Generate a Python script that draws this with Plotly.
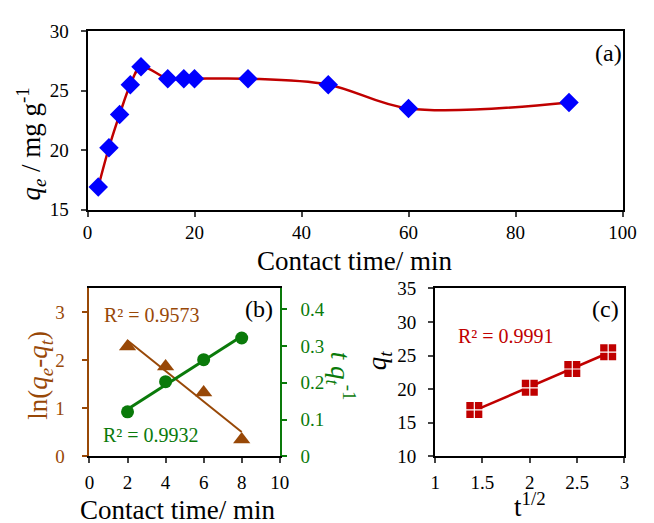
import numpy as np
import plotly.graph_objects as go

# ---------------- data ----------------
# (a) adsorption vs contact time
time_a = [2, 4, 6, 8, 10, 15, 18, 20, 30, 45, 60, 90]
qe_a = [16.9, 20.2, 23.0, 25.5, 27.0, 26.0, 26.0, 26.0, 26.0, 25.5, 23.5, 24.0]

# (b) kinetic models
time_b = [2, 4, 6, 8]
ln_qe_qt = [2.29, 1.87, 1.33, 0.35]
t_over_qt = [0.121, 0.203, 0.263, 0.322]
r2_first = "R² = 0.9573"
r2_second = "R² = 0.9932"

# (c) intraparticle diffusion
sqrt_t = [1.414, 2.0, 2.449, 2.828]
qt_c = [16.9, 20.2, 23.0, 25.5]
r2_intra = "R² = 0.9991"

# ---------------- style ----------------
W, H = 654, 523
FONT = "Times New Roman, Liberation Serif, DejaVu Serif, serif"
RED = "#C00000"
BLUE = "#0000FF"
BROWN = "#984807"
GREEN = "#0A7A0A"
TICK = 19
TITLE = 27


def px(x):
    return x / W


def py(y):
    return 1 - y / H


def fit(x, y):
    k, b = np.polyfit(x, y, 1)
    xs = np.array([min(x), max(x)])
    return xs, k * xs + b


fig = go.Figure()

# (a)
fig.add_trace(go.Scatter(x=time_a, y=qe_a, mode="lines", line=dict(color=RED, width=2.5, shape="spline", smoothing=1.0),
                         xaxis="x", yaxis="y", hoverinfo="skip"))
fig.add_trace(go.Scatter(x=time_a, y=qe_a, mode="markers", marker=dict(symbol="diamond", size=15, color=BLUE),
                         xaxis="x", yaxis="y"))

# (b)
fx, fy = fit(time_b, ln_qe_qt)
fig.add_trace(go.Scatter(x=fx, y=fy, mode="lines", line=dict(color=BROWN, width=2), xaxis="x2", yaxis="y2"))
fig.add_trace(go.Scatter(x=time_b, y=ln_qe_qt, mode="markers", marker=dict(symbol="triangle-up", size=15, color=BROWN),
                         xaxis="x2", yaxis="y2"))
gx, gy = fit(time_b, t_over_qt)
fig.add_trace(go.Scatter(x=gx, y=gy, mode="lines", line=dict(color=GREEN, width=3), xaxis="x2", yaxis="y3"))
fig.add_trace(go.Scatter(x=time_b, y=t_over_qt, mode="markers", marker=dict(symbol="circle", size=13, color=GREEN),
                         xaxis="x2", yaxis="y3"))

# (c)
cx, cy = fit(sqrt_t, qt_c)
fig.add_trace(go.Scatter(x=cx, y=cy, mode="lines", line=dict(color=RED, width=2.5), xaxis="x3", yaxis="y4"))
fig.add_trace(go.Scatter(x=sqrt_t, y=qt_c, mode="markers", marker=dict(symbol="square", size=16, color=RED),
                         xaxis="x3", yaxis="y4"))
fig.add_trace(go.Scatter(x=sqrt_t, y=qt_c, mode="markers",
                         marker=dict(symbol="cross-thin", size=13, color="white", line=dict(color="white", width=1.2)),
                         xaxis="x3", yaxis="y4"))

axis_common = dict(showline=True, linewidth=2, ticks="outside", ticklen=5, tickwidth=2, showgrid=False,
                   zeroline=False)


def tf(color="black"):
    return dict(family=FONT, size=TICK, color=color)


fig.update_layout(
    width=W, height=H, margin=dict(l=0, r=0, t=0, b=0), showlegend=False,
    paper_bgcolor="white", plot_bgcolor="white", font=dict(family=FONT),
    xaxis=dict(domain=[px(85), px(636)], range=[0, 100], dtick=20, anchor="y", mirror=True, linecolor="black",
               tickfont=tf(), **axis_common),
    yaxis=dict(domain=[py(208), py(22)], range=[15, 30], dtick=5, anchor="x", mirror=True, linecolor="black",
               tickfont=tf(), ticklabelstandoff=8, **axis_common),
    xaxis2=dict(domain=[px(87), px(283)], range=[0, 10], dtick=2, anchor="y2", mirror=True, linecolor="black",
                tickfont=tf(), ticklabelstandoff=3, **axis_common),
    yaxis2=dict(domain=[py(465), py(290)], range=[0, 3.5], dtick=1, anchor="x2", linecolor=BROWN, tickcolor=BROWN,
                tickfont=tf(BROWN), ticklabelstandoff=14, **axis_common),
    yaxis3=dict(range=[0, 0.457], dtick=0.1, anchor="x2", overlaying="y2", side="right", linecolor=GREEN,
                tickcolor=GREEN, tickfont=tf(GREEN), ticklabelstandoff=10, **axis_common),
    xaxis3=dict(domain=[px(443), px(638)], range=[1, 3], dtick=0.5, anchor="y4", mirror=True, linecolor="black",
                tickfont=tf(), ticklabelstandoff=3, **axis_common),
    yaxis4=dict(domain=[py(465), py(290)], range=[10, 35], dtick=5, anchor="x3", mirror=True, linecolor="black",
                tickfont=tf(), ticklabelstandoff=8, **axis_common),
)


def ann(text, x, y, size, color="black", angle=0, yanchor="middle", yshift=0):
    fig.add_annotation(text=text, x=px(x), y=py(y), xref="paper", yref="paper", showarrow=False,
                       font=dict(family=FONT, size=size, color=color), textangle=angle,
                       xanchor="center", yanchor=yanchor, yshift=yshift)


ann("(a)", 622, 45, 24)
ann("(b)", 262, 312, 24)
ann("(c)", 618, 312, 24)
ann(r2_first, 151, 318, 20, BROWN)
ann(r2_second, 150, 443, 20, GREEN)
ann(r2_intra, 516, 340, 20, RED)
ann("Contact time/ min", 360, 262, TITLE)
ann("Contact time/ min", 178, 523, TITLE, yanchor="bottom", yshift=-15)
ann("t<sup>1/2</sup>", 541, 523, TITLE, yanchor="bottom", yshift=-12)
ann("<i>q<sub>e</sub></i> / mg g<sup>-1</sup>", 27, 140, TITLE, angle=-90)
ann("ln(<i>q<sub>e</sub></i>-<i>q<sub>t</sub></i>)", 36, 380, TITLE, BROWN, angle=-90)
ann("<i>t</i> <i>q<sub>t</sub></i><sup>-1</sup>", 346, 382, TITLE, GREEN, angle=90)
ann("<i>q<sub>t</sub></i>", 386, 365, TITLE, angle=-90)

fig.write_html("out.html")
